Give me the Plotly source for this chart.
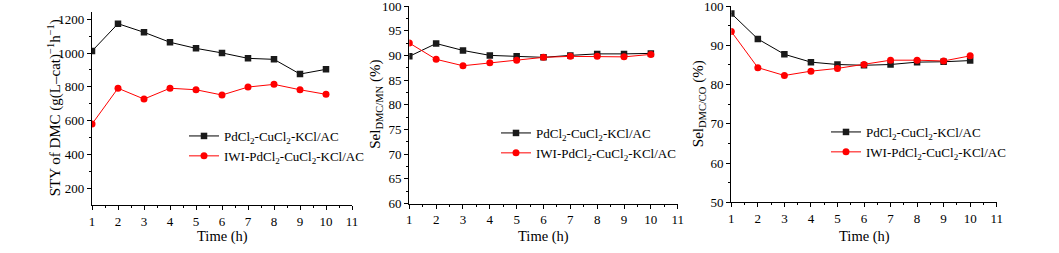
import plotly.graph_objects as go

W, H = 1059, 253

time_h = [1, 2, 3, 4, 5, 6, 7, 8, 9, 10]

sty_pd = [1012, 1174, 1123, 1064, 1028, 1001, 969, 963, 876, 904]
sty_iwi = [580, 792, 728, 792, 783, 752, 799, 815, 783, 756]

selmn_pd = [89.8, 92.4, 91.0, 90.0, 89.8, 89.6, 90.0, 90.3, 90.3, 90.4]
selmn_iwi = [92.5, 89.2, 87.9, 88.5, 89.0, 89.6, 89.8, 89.8, 89.7, 90.2]

selco_pd = [98.1, 91.6, 87.7, 85.7, 85.1, 84.9, 85.1, 85.7, 85.8, 86.1]
selco_iwi = [93.5, 84.3, 82.3, 83.4, 84.1, 85.1, 86.2, 86.2, 86.0, 87.3]

name_pd = "PdCl<sub>2</sub>-CuCl<sub>2</sub>-KCl/AC"
name_iwi = "IWI-PdCl<sub>2</sub>-CuCl<sub>2</sub>-KCl/AC"

FONT = "Liberation Serif, Times New Roman, serif"

def px(x):
    return x / W

def py(y):
    return 1 - y / H

panels = [
    dict(xd=(92, 352), yd=(11.7, 205), yr=[101, 1245], dt=200, mt=100,
         pd=sty_pd, iwi=sty_iwi, leg=(184, 121),
         ytitle="STY of DMC (g(L–cat)<sup>−1</sup>h<sup>−1</sup>)", ytx=54, xtx=222),
    dict(xd=(409.3, 677.7), yd=(6, 203.5), yr=[60, 100], dt=5, mt=2.5,
         pd=selmn_pd, iwi=selmn_iwi, leg=(496, 118),
         ytitle="Sel<sub>DMC/MN</sub> (%)", ytx=376, xtx=543),
    dict(xd=(731.3, 996.7), yd=(6, 202.3), yr=[50, 100], dt=10, mt=5,
         pd=selco_pd, iwi=selco_iwi, leg=(826, 117),
         ytitle="Sel<sub>DMC/CO</sub> (%)", ytx=699, xtx=864),
]

fig = go.Figure()
annotations = []
layout = {}
for i, p in enumerate(panels, start=1):
    sfx = "" if i == 1 else str(i)
    legname = "legend" if i == 1 else f"legend{i}"
    fig.add_trace(go.Scatter(
        x=time_h, y=p["pd"], mode="lines+markers", name=name_pd,
        line=dict(color="black", width=1),
        marker=dict(symbol="square", size=6.5, color="#1a1a1a"),
        xaxis=f"x{sfx}", yaxis=f"y{sfx}", legend=legname))
    fig.add_trace(go.Scatter(
        x=time_h, y=p["iwi"], mode="lines+markers", name=name_iwi,
        line=dict(color="#ff0000", width=1),
        marker=dict(symbol="circle", size=7, color="#ff0000"),
        xaxis=f"x{sfx}", yaxis=f"y{sfx}", legend=legname))
    layout[f"xaxis{sfx}"] = dict(
        domain=[px(p["xd"][0]), px(p["xd"][1])], range=[1, 11],
        anchor=f"y{sfx}", tickmode="linear", tick0=1, dtick=1, automargin=False,
        showline=True, linecolor="black", linewidth=1.2, ticklabeloverflow="allow",
        ticks="outside", ticklen=4, tickcolor="black", showgrid=False, zeroline=False,
        minor=dict(ticks="outside", ticklen=2, dtick=0.5, tick0=1, tickcolor="black", showgrid=False),
        tickfont=dict(family=FONT, size=13, color="black"))
    layout[f"yaxis{sfx}"] = dict(
        domain=[py(p["yd"][1]), py(p["yd"][0])], range=p["yr"],
        anchor=f"x{sfx}", tickmode="linear", tick0=0, dtick=p["dt"], automargin=False,
        showline=True, linecolor="black", linewidth=1.2, ticklabeloverflow="allow",
        ticks="outside", ticklen=4, tickcolor="black", showgrid=False, zeroline=False,
        minor=dict(ticks="outside", ticklen=2, dtick=p["mt"], tick0=0, tickcolor="black", showgrid=False),
        tickfont=dict(family=FONT, size=13, color="black"))
    layout[legname] = dict(
        x=px(p["leg"][0]), y=py(p["leg"][1]), xanchor="left", yanchor="top",
        bgcolor="rgba(0,0,0,0)", font=dict(family=FONT, size=13, color="black"),
        tracegroupgap=0, itemwidth=30)
    annotations.append(dict(
        text=p["ytitle"], x=px(p["ytx"]), y=py((p["yd"][0] + p["yd"][1]) / 2),
        xref="paper", yref="paper", textangle=-90, showarrow=False,
        xanchor="center", yanchor="middle",
        font=dict(family=FONT, size=15, color="black")))
    annotations.append(dict(
        text="Time (h)", x=px(p["xtx"]), y=py(236),
        xref="paper", yref="paper", showarrow=False,
        xanchor="center", yanchor="middle",
        font=dict(family=FONT, size=14.5, color="black")))

fig.update_layout(
    template="none",
    width=W, height=H, margin=dict(l=0, r=0, t=0, b=0),
    paper_bgcolor="white", plot_bgcolor="white", showlegend=True,
    annotations=annotations, **layout)

fig.write_html("out.html", config={"displayModeBar": False},
               post_script="document.body.style.margin='0px';document.body.style.overflow='hidden';")
